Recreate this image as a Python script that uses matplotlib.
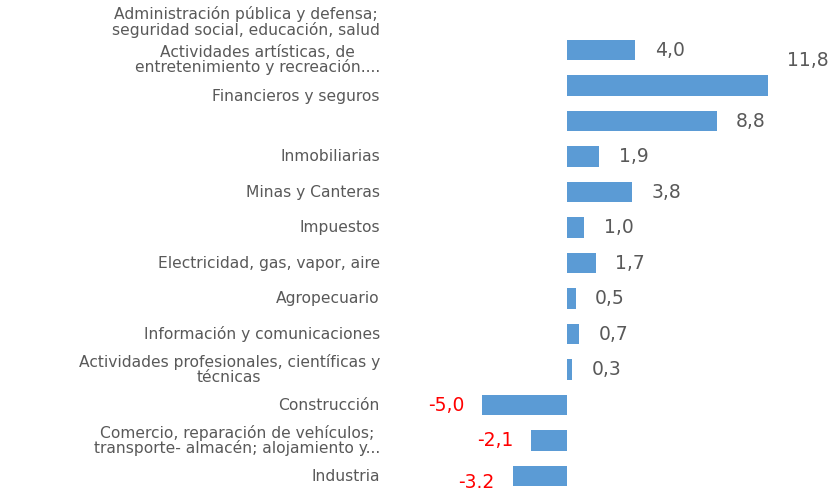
import matplotlib.pyplot as plt

# data, top to bottom as in the reference
categories = [
    "Administración pública y defensa;\nseguridad social, educación, salud",
    "Actividades artísticas, de\nentretenimiento y recreación....",
    "Financieros y seguros",
    "Inmobiliarias",
    "Minas y Canteras",
    "Impuestos",
    "Electricidad, gas, vapor, aire",
    "Agropecuario",
    "Información y comunicaciones",
    "Actividades profesionales, científicas y\ntécnicas",
    "Construcción",
    "Comercio, reparación de vehículos;\ntransporte- almacén; alojamiento y...",
    "Industria",
]
values = [4.0, 11.8, 8.8, 1.9, 3.8, 1.0, 1.7, 0.5, 0.7, 0.3, -5.0, -2.1, -3.2]
value_labels = ["4,0", "11,8", "8,8", "1,9", "3,8", "1,0", "1,7", "0,5", "0,7",
                "0,3", "-5,0", "-2,1", "-3.2"]

# the original chart has its top labels shifted off their bars
label_shift = [-0.79, -0.72, -0.68, 0, 0, 0, 0, 0, 0, 0, 0, 0, 0]
value_shift = [0, -0.7, 0, 0, 0, 0, 0, 0, 0, 0, 0, 0, 0.18]

bar_color = "#5B9BD5"
text_color = "#595959"

fig = plt.figure(figsize=(8.37, 4.91), dpi=100)
ax = fig.add_axes([0, 0, 1, 1])

pos = list(range(len(values)))
ax.barh(pos, values, height=0.57, color=bar_color)

for i, (cat, v, lab) in enumerate(zip(categories, values, value_labels)):
    ax.text(-11.0, i + label_shift[i], cat, ha="right", va="center",
            multialignment="center", fontsize=11.2, color=text_color,
            linespacing=0.98)
    if v >= 0:
        ax.text(v + 1.15, i + value_shift[i], lab, ha="left", va="center",
                fontsize=13.5, color=text_color)
    else:
        ax.text(v - 1.05, i + value_shift[i], lab, ha="right", va="center",
                fontsize=13.5, color="#FF0000")

ax.set_xlim(-33.35, 15.88)
ax.set_ylim(12.42, -1.41)
ax.axis("off")

fig.savefig("out.png", dpi=100)
